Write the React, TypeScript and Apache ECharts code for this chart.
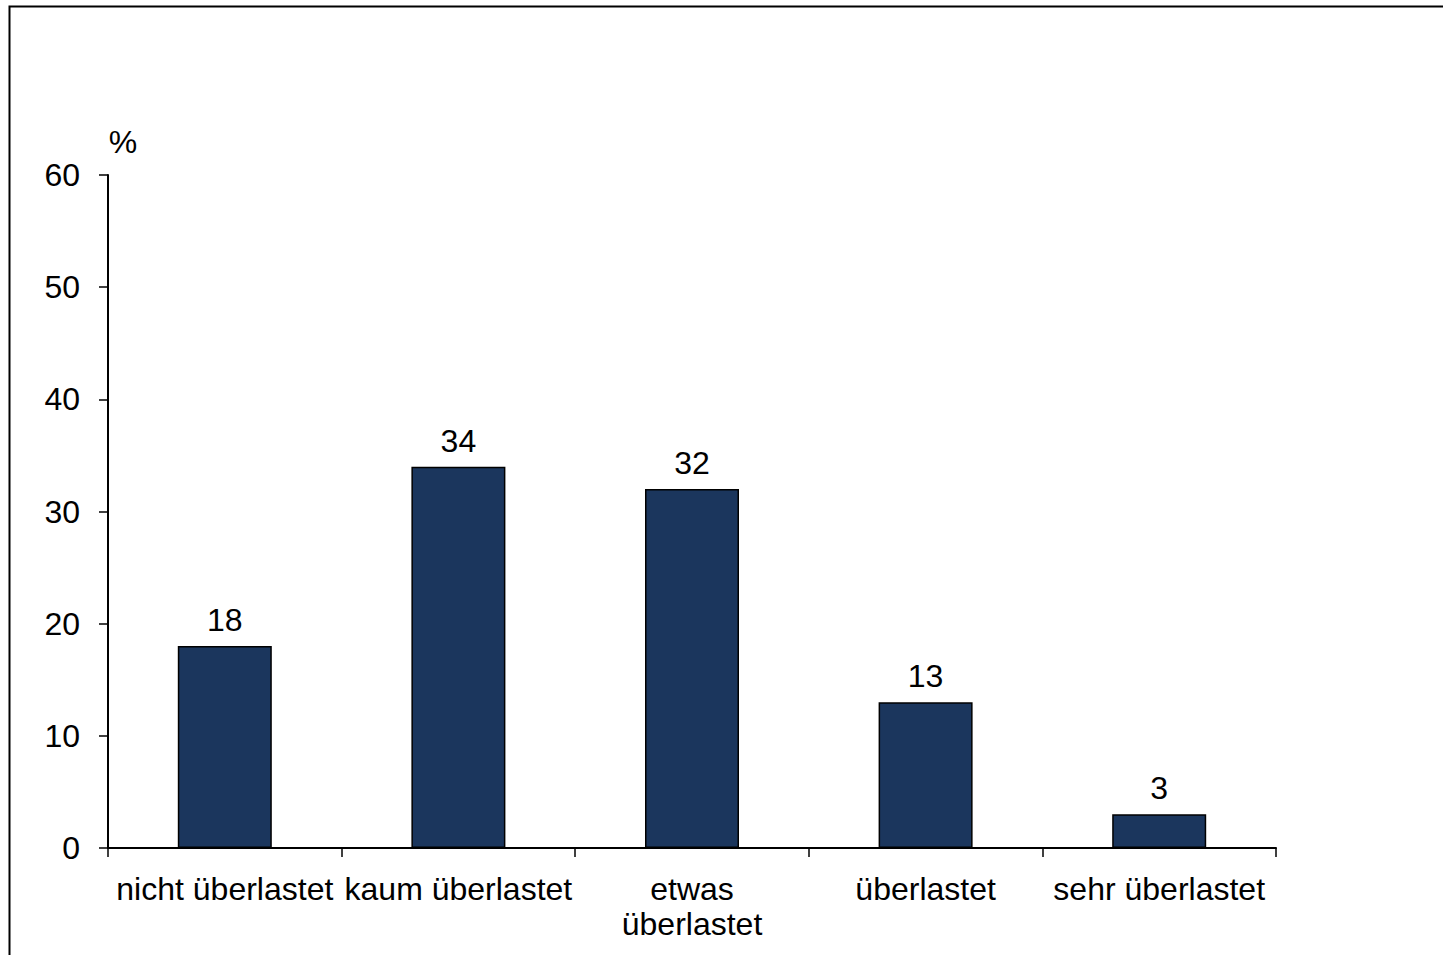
import React, { useEffect, useRef } from "react";
import * as echarts from "echarts";

const categories = ["nicht überlastet", "kaum überlastet", "etwas\nüberlastet", "überlastet", "sehr überlastet"];
const values = [18, 34, 32, 13, 3];
const yTicks = { min: 0, max: 60, interval: 10 };
const unitLabel = "%";

export default function App() {
  const ref = useRef<HTMLDivElement>(null);
  useEffect(() => {
    if (!ref.current) return;
    const chart = echarts.init(ref.current, null, { renderer: "svg" });
    const font = "'Liberation Sans', Arial, sans-serif";
    chart.setOption({
      animation: false,
      backgroundColor: "#ffffff",
      textStyle: { fontFamily: font },
      grid: { left: 108, right: 167, top: 175, bottom: 107, containLabel: false },
      graphic: [
        {
          type: "rect",
          shape: { x: 9.5, y: 6.5, width: 1500, height: 1000 },
          style: { fill: "none", stroke: "#000", lineWidth: 2 },
          silent: true,
        },
        {
          type: "text",
          x: 123,
          y: 142,
          style: { text: unitLabel, font: `32px ${font}`, fill: "#000", textAlign: "center", textVerticalAlign: "middle" },
        },
      ],
      xAxis: {
        type: "category",
        data: categories,
        boundaryGap: true,
        axisLine: { lineStyle: { color: "#000", width: 2 } },
        axisTick: { show: true, length: 9, alignWithLabel: false, lineStyle: { color: "#000", width: 1.5 } },
        axisLabel: { interval: 0, color: "#000", fontSize: 32, lineHeight: 35, margin: 23, fontFamily: font },
      },
      yAxis: {
        type: "value",
        min: yTicks.min,
        max: yTicks.max,
        interval: yTicks.interval,
        splitLine: { show: false },
        axisLine: { show: true, lineStyle: { color: "#000", width: 2 } },
        axisTick: { show: true, length: 9, lineStyle: { color: "#000", width: 1.5 } },
        axisLabel: { color: "#000", fontSize: 32, margin: 28, fontFamily: font },
      },
      series: [
        {
          type: "bar",
          data: values,
          barWidth: 94,
          itemStyle: { color: "#1b365d", borderColor: "#000", borderWidth: 1.5 },
          label: { show: true, position: "top", distance: 10, color: "#000", fontSize: 32, fontFamily: font },
        },
      ],
    });
    return () => chart.dispose();
  }, []);
  return (
    <div
      ref={ref}
      style={{ position: "fixed", left: 0, top: 0, width: 1443, height: 955, background: "#fff" }}
    />
  );
}
